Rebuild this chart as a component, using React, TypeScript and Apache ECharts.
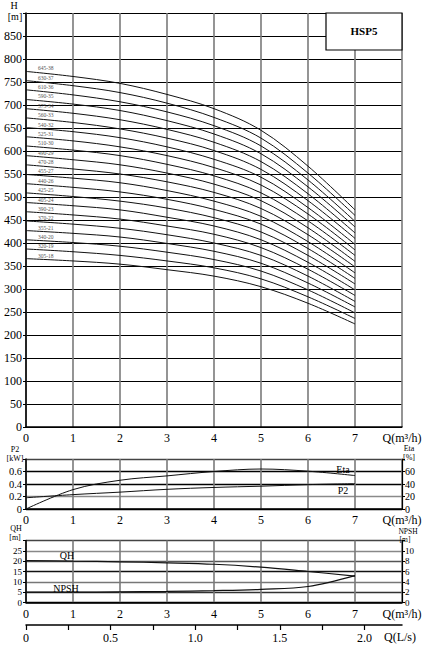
import React, { useEffect, useRef } from 'react';
import * as echarts from 'echarts';

const flowM3h = [0, 1, 2, 3, 4, 5, 6, 7];

const modelLabels = [
  '645-38', '630-37', '610-36', '590-35', '575-34', '560-33', '540-32',
  '525-31', '510-30', '490-29', '470-28', '455-27', '440-26', '425-25',
  '405-24', '390-23', '370-22', '355-21', '340-20', '320-19', '305-18',
];

const headCurves = [
  [773, 762, 747, 723, 692, 645, 567, 472],
  [753, 742, 727, 704, 673, 628, 552, 460],
  [733, 722, 707, 685, 655, 611, 537, 447],
  [712, 702, 688, 666, 637, 594, 522, 435],
  [692, 682, 668, 647, 619, 577, 507, 422],
  [672, 662, 648, 628, 601, 560, 492, 410],
  [651, 642, 629, 609, 582, 543, 477, 397],
  [631, 622, 609, 590, 564, 526, 463, 385],
  [611, 602, 590, 571, 546, 509, 448, 373],
  [590, 581, 570, 552, 528, 492, 433, 360],
  [570, 561, 550, 533, 510, 475, 418, 348],
  [549, 541, 531, 514, 491, 458, 403, 335],
  [529, 521, 511, 495, 473, 441, 388, 323],
  [509, 501, 491, 476, 455, 424, 373, 311],
  [488, 481, 472, 456, 437, 407, 358, 298],
  [468, 461, 452, 437, 419, 390, 343, 286],
  [448, 441, 432, 418, 400, 373, 328, 273],
  [427, 421, 413, 399, 382, 356, 313, 261],
  [407, 401, 393, 380, 364, 339, 298, 248],
  [387, 381, 373, 361, 346, 322, 283, 236],
  [366, 361, 354, 342, 328, 305, 269, 224],
];

const p2Curve = [0.18, 0.23, 0.27, 0.315, 0.345, 0.365, 0.39, 0.405];
const etaCurve = [0, 31, 46, 53, 60, 64, 60.5, 53.5];
const qhCurve = [20.3, 20.0, 19.7, 19.2, 18.5, 17.1, 15.0, 12.8];
const npshCurve = [2.0, 2.0, 2.05, 2.15, 2.3, 2.55, 3.1, 5.2];

const lsTickValues = [0, 0.25, 0.5, 0.75, 1, 1.25, 1.5, 1.75, 2];
const lsLabelValues = [0, 0.5, 1, 1.5, 2];

const FONT = '"Liberation Serif", "DejaVu Serif", serif';
const LINE = '#111';

function pairs(ys: number[]) {
  return flowM3h.map((q, i) => [q, ys[i]]);
}

function xAxisFor(gridIndex: number) {
  return {
    type: 'value',
    gridIndex,
    min: 0,
    max: 8,
    interval: 1,
    axisLine: { show: true, onZero: false, lineStyle: { color: '#000', width: 1.5 } },
    axisTick: { show: false },
    axisLabel: {
      margin: 5,
      color: '#000',
      fontFamily: FONT,
      fontSize: 12,
      formatter: (v: number) => (v === 8 ? 'Q(m³/h)' : String(v)),
    },
    splitLine: { show: true, lineStyle: { color: '#7a7a7a', width: 1.6 } },
  };
}

function txt(text: string, x: number, y: number, size: number, extra: any = {}) {
  return {
    type: 'text',
    x,
    y,
    z: 101,
    style: {
      text,
      fill: '#000',
      font: `${extra.bold ? 'bold ' : ''}${size}px ${FONT}`,
      textAlign: extra.align || 'center',
      textVerticalAlign: 'middle',
    },
  };
}

export default function App() {
  const ref = useRef<HTMLDivElement>(null);

  useEffect(() => {
    if (!ref.current) return;
    const chart = echarts.init(ref.current, undefined, { renderer: 'svg' });

    const headSeries = headCurves.map((curve, idx) => ({
      type: 'line',
      xAxisIndex: 0,
      yAxisIndex: 0,
      smooth: 0.35,
      showSymbol: true,
      symbol: 'circle',
      symbolSize: 0,
      silent: true,
      lineStyle: { color: LINE, width: 1 },
      itemStyle: { color: LINE },
      data: pairs(curve).map((p, i) =>
        i === 0
          ? {
              value: p,
              label: {
                show: true,
                formatter: modelLabels[idx],
                position: 'right',
                distance: 12,
                offset: [0, -3],
                fontSize: 5.5,
                color: '#555',
                fontFamily: FONT,
              },
            }
          : { value: p, label: { show: false } }
      ),
    }));

    const smallLeftLabel = {
      margin: 4,
      color: '#000',
      fontFamily: FONT,
      fontSize: 10.5,
    };
    const smallRightLabel = {
      margin: 3,
      color: '#000',
      fontFamily: FONT,
      fontSize: 10,
    };

    const option: any = {
      animation: false,
      backgroundColor: '#fff',
      grid: [
        { left: 26, top: 13, width: 376, height: 414 },
        { left: 26, top: 459, width: 376, height: 50 },
        { left: 26, top: 540.5, width: 376, height: 62 },
        { left: 26, top: 624, width: 376, height: 1 },
      ],
      xAxis: [
        xAxisFor(0),
        xAxisFor(1),
        xAxisFor(2),
        {
          type: 'value',
          gridIndex: 3,
          min: 0,
          max: 8 / 3.6,
          axisLine: { show: true, onZero: false, lineStyle: { color: '#000', width: 1.5 } },
          axisTick: {
            show: true,
            length: 5,
            customValues: lsTickValues,
            lineStyle: { color: '#000', width: 1.2 },
          },
          axisLabel: {
            margin: 7,
            color: '#000',
            fontFamily: FONT,
            fontSize: 12,
            customValues: lsLabelValues,
            formatter: (v: number) => (v === 0 ? '0' : v.toFixed(1)),
          },
          splitLine: { show: false },
        },
      ],
      yAxis: [
        {
          type: 'value',
          gridIndex: 0,
          min: 0,
          max: 900,
          interval: 50,
          axisLine: { show: true, lineStyle: { color: '#000', width: 1.5 } },
          axisTick: { show: true, length: 3, lineStyle: { color: '#000' } },
          axisLabel: {
            margin: 4,
            color: '#000',
            fontFamily: FONT,
            fontSize: 12,
            formatter: (v: number) => (v === 900 ? '' : String(v)),
          },
          splitLine: { show: true, lineStyle: { color: '#000', width: 1.2 } },
        },
        {
          type: 'value',
          gridIndex: 1,
          min: 0,
          max: 0.8,
          interval: 0.2,
          axisLine: { show: true, lineStyle: { color: '#000', width: 1.5 } },
          axisTick: { show: true, length: 3, lineStyle: { color: '#000' } },
          axisLabel: {
            ...smallLeftLabel,
            formatter: (v: number) => (v > 0.75 ? '' : v === 0 ? '0' : v.toFixed(1)),
          },
          splitLine: {
            show: true,
            lineStyle: { color: ['#000', '#8a8a8a', '#000', '#000', '#444'], width: 1.4 },
          },
        },
        {
          type: 'value',
          gridIndex: 1,
          position: 'right',
          min: 0,
          max: 80,
          interval: 20,
          axisLine: { show: true, lineStyle: { color: '#000', width: 1.2 } },
          axisTick: { show: true, length: 3, lineStyle: { color: '#000' } },
          axisLabel: {
            ...smallRightLabel,
            formatter: (v: number) => (v === 80 ? '' : String(v)),
          },
          splitLine: { show: false },
        },
        {
          type: 'value',
          gridIndex: 2,
          min: 0,
          max: 30,
          interval: 5,
          axisLine: { show: true, lineStyle: { color: '#000', width: 1.5 } },
          axisTick: { show: true, length: 3, lineStyle: { color: '#000' } },
          axisLabel: {
            ...smallLeftLabel,
            fontSize: 9,
            formatter: (v: number) => (v === 30 ? '' : String(v)),
          },
          splitLine: {
            show: true,
            lineStyle: { color: ['#000', '#333', '#777', '#111', '#555', '#888', '#444'], width: 1.3 },
          },
        },
        {
          type: 'value',
          gridIndex: 2,
          position: 'right',
          min: 0,
          max: 12,
          interval: 2,
          axisLine: { show: true, lineStyle: { color: '#000', width: 1.2 } },
          axisTick: { show: true, length: 3, lineStyle: { color: '#000' } },
          axisLabel: {
            ...smallRightLabel,
            fontSize: 9,
            formatter: (v: number) => (v === 12 ? '' : String(v)),
          },
          splitLine: { show: false },
        },
        { type: 'value', gridIndex: 3, min: 0, max: 1, show: false },
      ],
      series: [
        ...headSeries,
        {
          type: 'line',
          name: 'P2',
          xAxisIndex: 1,
          yAxisIndex: 1,
          smooth: 0.35,
          showSymbol: false,
          lineStyle: { color: LINE, width: 1 },
          data: pairs(p2Curve),
        },
        {
          type: 'line',
          name: 'Eta',
          xAxisIndex: 1,
          yAxisIndex: 2,
          smooth: 0.35,
          showSymbol: false,
          lineStyle: { color: LINE, width: 1 },
          data: pairs(etaCurve),
        },
        {
          type: 'line',
          name: 'QH',
          xAxisIndex: 2,
          yAxisIndex: 3,
          smooth: 0.35,
          showSymbol: false,
          lineStyle: { color: LINE, width: 1.2 },
          data: pairs(qhCurve),
        },
        {
          type: 'line',
          name: 'NPSH',
          xAxisIndex: 2,
          yAxisIndex: 4,
          smooth: 0.35,
          showSymbol: false,
          lineStyle: { color: LINE, width: 1.2 },
          data: pairs(npshCurve),
        },
        { type: 'line', xAxisIndex: 3, yAxisIndex: 5, data: [] },
      ],
      graphic: [
        {
          type: 'rect',
          z: 100,
          shape: { x: 326, y: 13, width: 76, height: 37 },
          style: { fill: '#fff', stroke: '#000', lineWidth: 1.2 },
        },
        txt('HSP5', 364, 31, 11, { bold: true }),
        txt('H', 14, 5.5, 10),
        txt('[m]', 15, 16.5, 10),
        txt('P2', 15, 449, 8),
        txt('[kW]', 15, 458, 8),
        txt('Eta', 409, 448.5, 8),
        txt('[%]', 409, 457.5, 8),
        txt('QH', 16, 528.5, 8),
        txt('[m]', 15, 537.5, 8),
        txt('NPSH', 408, 531.5, 7.5),
        txt('[m]', 405, 539.5, 7.5),
        txt('Eta', 343, 469, 10),
        txt('P2', 343, 490, 10),
        txt('QH', 67, 555, 10),
        txt('NPSH', 66, 588, 10),
        txt('Q(L/s)', 400, 637, 12),
      ],
    };

    chart.setOption(option);
    return () => chart.dispose();
  }, []);

  return (
    <div
      ref={ref}
      style={{ position: 'fixed', left: 0, top: 0, width: 425, height: 650, background: '#fff' }}
    />
  );
}
